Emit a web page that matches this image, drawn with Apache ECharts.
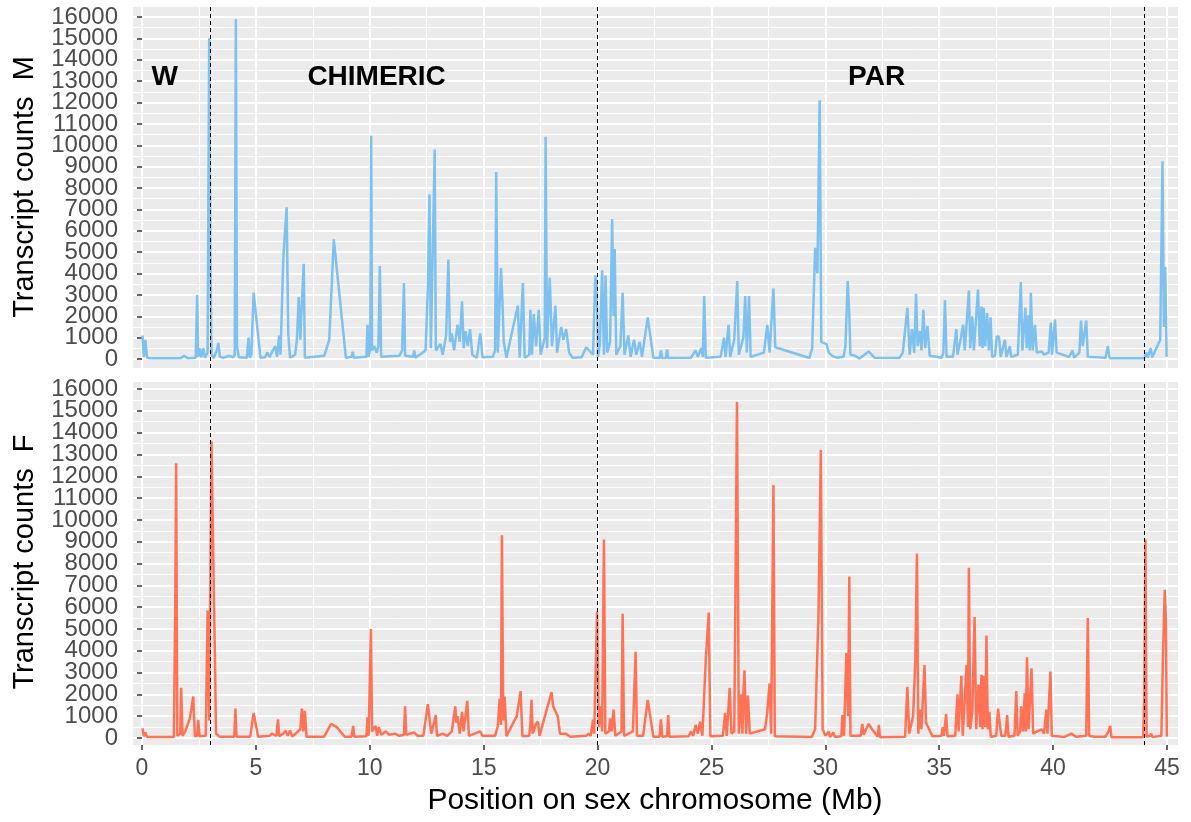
<!DOCTYPE html>
<html>
<head>
<meta charset="utf-8">
<script src="https://cdn.jsdelivr.net/npm/echarts/dist/echarts.min.js"></script>
<style>
  html, body { margin: 0; padding: 0; background: #fff; }
  #main { width: 1191px; height: 822px; }
</style>
</head>
<body>
<div id="main"></div>
<script>
// position (Mb) / transcript counts
let maleTrack = [
  [0.02,1100],[0.08,100],[0.15,900],[0.22,60],[0.4,30],[1.7,40],[1.85,150],[2.0,40],[2.36,60],[2.42,3000],[2.47,100],[2.55,500],[2.6,80],[2.7,500],[2.76,60],[2.88,300],[2.95,15000],[3.0,5000],[3.05,200],[3.15,50],[3.28,400],[3.35,750],[3.42,100],[3.6,60],[3.8,150],[4.0,80],[4.07,200],[4.12,15900],[4.17,600],[4.25,80],[4.6,60],[4.68,1000],[4.73,60],[4.8,200],[4.9,3100],[5.2,60],[5.4,80],[5.5,300],[5.6,100],[5.75,400],[5.85,600],[5.93,100],[6.02,1100],[6.08,200],[6.2,4600],[6.28,6000],[6.35,7100],[6.42,1200],[6.5,60],[6.72,200],[6.8,900],[6.88,2900],[6.95,900],[7.03,2900],[7.1,4450],[7.15,60],[8.0,150],[8.22,900],[8.42,5600],[8.95,60],[9.2,100],[9.25,340],[9.3,60],[9.85,100],[9.9,1600],[9.95,100],[10.02,500],[10.06,10450],[10.1,400],[10.2,600],[10.3,300],[10.38,600],[10.44,4350],[10.5,100],[11.3,150],[11.42,400],[11.5,3550],[11.55,150],[11.9,100],[11.95,400],[12.0,60],[12.45,400],[12.55,3400],[12.62,7700],[12.68,500],[12.85,9800],[12.9,400],[13.1,700],[13.2,200],[13.35,1100],[13.45,4650],[13.52,800],[13.6,1200],[13.7,400],[13.85,1600],[13.95,800],[14.05,2700],[14.12,500],[14.2,1300],[14.3,600],[14.4,1400],[14.5,200],[14.7,60],[14.85,1200],[14.95,80],[15.4,100],[15.5,400],[15.55,8750],[15.62,300],[15.76,4250],[15.82,2800],[15.88,800],[16.0,60],[16.5,2500],[16.58,60],[16.72,3550],[16.8,60],[17.0,200],[17.05,2300],[17.12,200],[17.2,2100],[17.3,600],[17.42,2300],[17.5,200],[17.68,1000],[17.72,10400],[17.78,500],[17.9,3800],[18.0,600],[18.15,2500],[18.22,300],[18.4,1500],[18.5,900],[18.62,1400],[18.75,300],[18.9,60],[19.3,80],[19.5,550],[19.8,200],[19.9,3900],[19.96,3600],[20.02,100],[20.1,700],[20.2,4150],[20.28,200],[20.35,3900],[20.42,300],[20.55,800],[20.64,6550],[20.7,2000],[20.75,5150],[20.82,200],[21.0,600],[21.1,3100],[21.18,200],[21.35,1100],[21.45,100],[21.6,900],[21.7,200],[21.85,800],[21.95,100],[22.2,1950],[22.45,60],[22.72,50],[22.78,400],[22.84,50],[23.0,50],[23.05,450],[23.1,50],[24.1,60],[24.3,400],[24.4,100],[24.55,500],[24.62,100],[24.68,2950],[24.75,60],[25.4,100],[25.55,1000],[25.62,100],[25.75,1600],[25.82,100],[26.0,900],[26.13,3650],[26.2,200],[26.4,1000],[26.48,2950],[26.55,300],[26.65,2950],[26.72,100],[27.3,300],[27.45,1600],[27.55,300],[27.72,3300],[27.8,550],[29.3,50],[29.42,500],[29.55,5200],[29.65,4000],[29.75,12100],[29.82,800],[30.05,700],[30.15,300],[30.3,150],[30.5,60],[30.8,100],[30.88,600],[30.98,3650],[31.05,2100],[31.1,200],[31.3,150],[31.5,20],[31.9,350],[32.15,60],[33.25,50],[33.4,300],[33.6,2400],[33.7,200],[33.8,1400],[33.9,300],[33.98,3050],[34.05,600],[34.15,1300],[34.22,400],[34.3,2300],[34.38,500],[34.48,1550],[34.58,150],[35.1,60],[35.18,300],[35.25,2750],[35.32,100],[35.6,100],[35.75,1400],[35.8,200],[35.95,1000],[36.05,1600],[36.12,400],[36.3,3200],[36.36,500],[36.45,2000],[36.52,400],[36.7,3250],[36.78,600],[36.85,2450],[36.9,500],[36.95,2400],[37.02,600],[37.1,2150],[37.18,400],[37.25,1950],[37.32,100],[37.45,150],[37.52,1050],[37.62,1050],[37.7,100],[37.88,900],[37.95,100],[38.1,600],[38.15,100],[38.45,200],[38.58,3600],[38.65,400],[38.78,2400],[38.84,500],[38.92,2050],[38.97,400],[39.02,3100],[39.1,400],[39.2,1600],[39.28,300],[39.5,350],[39.6,200],[39.8,300],[39.9,1700],[39.95,200],[40.08,1850],[40.15,300],[40.7,100],[40.85,400],[40.92,60],[41.15,300],[41.22,1800],[41.3,600],[41.45,1800],[41.52,100],[42.3,60],[42.4,600],[42.48,40],[44.0,40],[44.1,300],[44.15,60],[44.28,500],[44.35,80],[44.7,900],[44.8,9250],[44.86,1500],[44.92,4300],[44.98,100]
];

let femaleTrack = [
  [0.02,450],[0.08,80],[0.15,250],[0.22,50],[1.4,50],[1.46,6300],[1.5,12600],[1.55,100],[1.68,200],[1.72,2300],[1.78,100],[1.9,300],[2.1,900],[2.25,1900],[2.32,80],[2.42,100],[2.47,830],[2.53,80],[2.8,100],[2.88,5850],[2.95,800],[3.05,13600],[3.1,10300],[3.15,6900],[3.2,3800],[3.25,200],[3.4,60],[4.05,60],[4.1,1350],[4.15,60],[4.75,60],[4.9,1150],[5.1,60],[5.6,100],[5.7,200],[5.9,100],[5.97,850],[6.02,80],[6.2,200],[6.3,350],[6.4,100],[6.5,350],[6.6,60],[6.95,400],[7.02,1350],[7.08,300],[7.15,1250],[7.22,60],[8.0,60],[8.3,650],[8.55,500],[8.9,60],[9.2,60],[9.27,550],[9.32,60],[9.85,80],[9.9,950],[9.95,100],[10.05,5000],[10.1,300],[10.25,550],[10.32,100],[10.4,500],[10.5,150],[10.7,300],[10.85,150],[11.1,200],[11.3,100],[11.5,150],[11.55,1450],[11.6,150],[11.95,250],[12.1,100],[12.35,100],[12.55,1550],[12.62,1550],[12.7,200],[12.9,1050],[12.95,100],[13.2,200],[13.4,100],[13.6,300],[13.75,1450],[13.8,700],[13.85,1000],[13.95,200],[14.05,1200],[14.12,300],[14.28,1700],[14.35,100],[14.85,300],[14.95,100],[15.5,100],[15.62,550],[15.7,1800],[15.76,600],[15.8,9300],[15.86,800],[15.92,1900],[16.0,80],[16.45,1000],[16.62,2150],[16.7,80],[17.0,100],[17.05,650],[17.1,1750],[17.15,200],[17.3,650],[17.38,750],[17.45,100],[17.98,2100],[18.05,1450],[18.25,1000],[18.35,200],[18.6,200],[18.8,60],[19.5,100],[19.6,200],[19.7,100],[19.8,850],[19.85,200],[19.98,5800],[20.05,500],[20.12,1450],[20.2,300],[20.28,9100],[20.34,200],[20.5,300],[20.55,900],[20.62,300],[20.7,1300],[20.78,100],[21.05,300],[21.1,5700],[21.16,100],[21.55,300],[21.67,3950],[21.73,100],[22.0,100],[22.2,1750],[22.45,60],[22.72,60],[22.78,850],[22.84,60],[23.05,80],[23.1,1050],[23.15,60],[24.0,80],[24.1,300],[24.2,100],[24.3,600],[24.4,200],[24.5,750],[24.6,100],[24.75,3600],[24.88,5750],[24.95,80],[25.5,100],[25.6,1150],[25.67,100],[25.8,2300],[25.88,200],[26.0,300],[26.12,15400],[26.2,200],[26.3,2000],[26.36,200],[26.4,2000],[26.45,3100],[26.52,200],[26.6,1950],[26.68,200],[27.35,400],[27.45,1200],[27.55,2500],[27.62,200],[27.72,11600],[27.78,80],[29.4,50],[29.55,400],[29.7,5800],[29.8,13200],[29.88,400],[30.0,100],[30.15,300],[30.2,50],[30.35,250],[30.42,50],[30.7,80],[30.75,1050],[30.82,100],[30.92,3900],[31.0,1000],[31.05,7400],[31.1,100],[31.55,100],[31.62,650],[31.68,150],[31.9,650],[32.05,400],[32.3,60],[32.35,600],[32.4,40],[33.5,60],[33.6,2350],[33.68,200],[33.85,1000],[33.95,3600],[34.02,8450],[34.08,200],[34.15,1300],[34.22,400],[34.35,3350],[34.42,700],[34.7,80],[35.1,100],[35.15,500],[35.2,100],[35.3,1100],[35.36,80],[35.7,100],[35.8,2000],[35.85,300],[35.97,2850],[36.03,100],[36.2,3350],[36.26,500],[36.3,7800],[36.36,400],[36.45,1200],[36.55,5550],[36.62,400],[36.72,2450],[36.8,500],[36.85,2900],[36.9,400],[36.96,2850],[37.02,500],[37.07,4700],[37.13,400],[37.2,1200],[37.26,60],[37.5,100],[37.58,1350],[37.66,1350],[37.72,100],[37.9,100],[37.98,1050],[38.04,60],[38.3,100],[38.38,2150],[38.44,100],[38.55,300],[38.6,1450],[38.68,300],[38.75,2050],[38.8,300],[38.85,3700],[38.92,400],[39.05,3200],[39.12,200],[39.3,300],[39.5,400],[39.6,200],[39.7,1300],[39.75,200],[39.88,3050],[39.94,100],[40.5,50],[40.8,200],[41.0,60],[41.45,100],[41.52,5500],[41.58,100],[41.8,60],[42.3,60],[42.45,350],[42.5,560],[42.56,40],[43.95,40],[44.0,1800],[44.05,9100],[44.1,60],[44.25,100],[44.3,200],[44.36,40],[44.75,100],[44.82,3800],[44.9,6800],[44.95,5400],[44.99,60]
];

let yTickLabels = ['0', '1000', '2000', '3000', '4000', '5000', '6000', '7000', '8000',
	'9000', '10000', '11000', '12000', '13000', '14000', '15000', '16000'];
let boundaries = [3, 20, 44];
let regionNames = ['W', 'CHIMERIC', 'PAR'];
let regionX = [1.0, 10.3, 32.25];
let regionY = 13200;

let font = 'Liberation Sans, Arial, sans-serif';
let myChart = echarts.init(document.getElementById('main'));

// each panel: data grid (with ggplot-like expansion), grid for vertical lines, grid for horizontal lines
function panelGrids(top, height, hTop, hHeight) {
	return [
		{ left: 133, top: top, width: 1045, height: height, show: true, backgroundColor: '#EBEBEB', borderWidth: 0 },
		{ left: 142, top: top, width: 1025, height: height },
		{ left: 133, top: hTop, width: 1045, height: hHeight }
	];
}

function dataX(idx) {
	return { type: 'value', gridIndex: idx, min: -0.395, max: 45.48, show: false };
}

function vLinesX(idx, labels) {
	return {
		type: 'value', gridIndex: idx, min: 0, max: 45, interval: 5, z: 1,
		axisLine: { show: false },
		axisTick: { show: labels, length: 5, lineStyle: { color: '#333333', width: 1.5 } },
		axisLabel: { show: labels, color: '#4D4D4D', fontSize: 23, fontFamily: font, margin: 12,
			showMinLabel: true, showMaxLabel: true, formatter: v => String(v) },
		splitLine: { show: true, lineStyle: { color: '#ffffff', width: 2 } },
		minorTick: { show: false, splitNumber: 2 },
		minorSplitLine: { show: true, lineStyle: { color: '#ffffff', width: 1 } }
	};
}

// major lines + labels (category axis so every label is kept)
function hLinesY(idx) {
	return {
		type: 'category', gridIndex: idx, data: yTickLabels, boundaryGap: false, z: 2,
		position: 'left',
		axisLine: { show: false },
		axisTick: { show: true, interval: 0, length: 5, lineStyle: { color: '#333333', width: 1.5 } },
		axisLabel: { interval: 0, color: '#4D4D4D', fontSize: 24, fontFamily: font, margin: 15 },
		splitLine: { show: true, interval: 0, lineStyle: { color: '#ffffff', width: 2 } }
	};
}

// thin lines every 500
function minorY(idx) {
	return {
		type: 'value', gridIndex: idx, min: 0, max: 16000, interval: 500, z: 1,
		position: 'right',
		axisLine: { show: false }, axisTick: { show: false }, axisLabel: { show: false },
		splitLine: { show: true, lineStyle: { color: '#ffffff', width: 1 } }
	};
}

function boundarySeries(xi) {
	return {
		type: 'scatter', xAxisIndex: xi, yAxisIndex: xi, data: [], z: 5, silent: true,
		markLine: {
			silent: true, symbol: ['none', 'none'], label: { show: false },
			lineStyle: { color: '#000000', width: 1, type: [4, 3] },
			data: boundaries.map(v => ({ xAxis: v }))
		}
	};
}

let option = {
	animation: false,
	backgroundColor: '#ffffff',
	grid: panelGrids(7, 361, 17, 342).concat(panelGrids(382, 363, 389, 349)),
	xAxis: [
		dataX(0), vLinesX(1, false), dataX(2),
		dataX(3), vLinesX(4, true), dataX(5)
	],
	yAxis: [
		{ type: 'value', gridIndex: 0, min: -421, max: 16468, show: false },
		{ type: 'value', gridIndex: 1, min: 0, max: 1, show: false },
		hLinesY(2),
		{ type: 'value', gridIndex: 3, min: -321, max: 16321, show: false },
		{ type: 'value', gridIndex: 4, min: 0, max: 1, show: false },
		hLinesY(5),
		minorY(2),
		minorY(5)
	],
	series: [
		{
			name: 'M', type: 'line', xAxisIndex: 0, yAxisIndex: 0, data: maleTrack,
			showSymbol: false, z: 3,
			lineStyle: { color: '#7EC0EE', width: 2.5 }
		},
		{
			name: 'F', type: 'line', xAxisIndex: 3, yAxisIndex: 3, data: femaleTrack,
			showSymbol: false, z: 3,
			lineStyle: { color: '#FF7256', width: 2.5 }
		},
		boundarySeries(0),
		boundarySeries(3),
		{
			type: 'scatter', xAxisIndex: 0, yAxisIndex: 0, z: 6, silent: true,
			symbolSize: 0,
			data: regionX.map((x, i) => [x, regionY, regionNames[i]]),
			label: {
				show: true, position: 'inside', formatter: p => p.data[2],
				color: '#000000', opacity: 1, textBorderWidth: 0,
				fontSize: 28, fontWeight: 'bold', fontFamily: font
			}
		}
	],
	graphic: [
		{ type: 'text', x: 25, y: 187, rotation: Math.PI / 2,
		  style: { text: 'Transcript counts  M', fill: '#000', font: '29px ' + font, align: 'center', verticalAlign: 'middle' } },
		{ type: 'text', x: 25, y: 562, rotation: Math.PI / 2,
		  style: { text: 'Transcript counts  F', fill: '#000', font: '29px ' + font, align: 'center', verticalAlign: 'middle' } },
		{ type: 'text', x: 655, y: 801,
		  style: { text: 'Position on sex chromosome (Mb)', fill: '#000', font: '30px ' + font, align: 'center', verticalAlign: 'middle' } }
	]
};
myChart.setOption(option);
</script>
</body>
</html>
